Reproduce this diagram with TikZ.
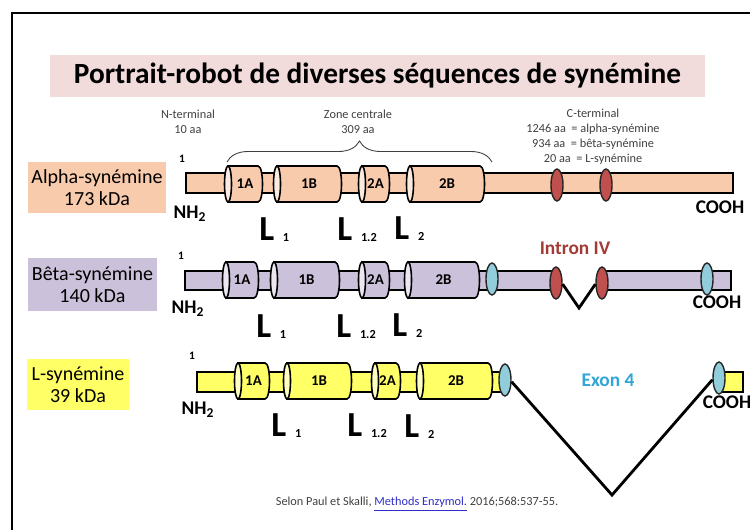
\documentclass[tikz,border=0pt]{standalone}
\usepackage{fontspec}
\setmainfont{Carlito}
\usetikzlibrary{shapes.geometric,decorations.pathreplacing}

\definecolor{peach}{HTML}{F8CBAD}
\definecolor{lilac}{HTML}{CCC1DA}
\definecolor{lemon}{HTML}{FFFF66}
\definecolor{titlepink}{HTML}{F2DCDB}
\definecolor{spotred}{HTML}{C0504D}
\definecolor{spotblue}{HTML}{92CDDC}
\definecolor{intronred}{HTML}{A33A36}
\definecolor{exonblue}{HTML}{31A5D5}
\definecolor{linkblue}{HTML}{2E2EC8}
\definecolor{note}{HTML}{404040}

\tikzset{
  rowlabel/.style={fill=#1, minimum height=1.02cm, inner sep=0pt, align=center,
    font=\fontsize{11.4}{12.3}\selectfont},
  seglabel/.style={font=\fontsize{8.5}{9}\bfseries\selectfont, inner sep=0pt},
  headnote/.style={font=\fontsize{7}{8.5}\selectfont, text=note, align=center, inner sep=0pt},
  spot/.style={ellipse, draw=black!85, line width=0.8pt, fill=#1,
    minimum width=0.24cm, minimum height=0.64cm, inner sep=0pt},
  endtag/.style={font=\fontsize{11}{11}\bfseries\selectfont, inner sep=0pt},
  startnum/.style={font=\fontsize{6.5}{6.5}\bfseries\selectfont, inner sep=0pt},
  lmark/.style={font=\fontsize{20}{20}\bfseries\selectfont, inner sep=0pt, anchor=base west},
  splice/.style={line width=1.6pt, line join=miter}
}

% one rod segment: name, x from, x to, y centre, label, colour
\newcommand{\rod}[6]{%
  \filldraw[fill=#6, line width=0.9pt] (#2,#4-18) -- (#3,#4-18)
    .. controls (#3+6,#4-18) and (#3+6,#4+18) .. (#3,#4+18) -- (#2,#4+18) -- cycle;
  \filldraw[fill=#6!40!white, line width=0.9pt] (#2,#4) ellipse (3.5 and 18);
  \node[seglabel] (#1) at ({(#2+#3)/2+2},#4) {#5};
}
\newcommand{\Lsub}[1]{L\hspace{5pt}\raisebox{-1pt}{\fontsize{7}{7}\selectfont #1}}

\begin{document}
\begin{tikzpicture}[x=0.02cm,y=-0.02cm]
  \useasboundingbox (0,0) rectangle (750,530);

  % frame and title
  \draw[line width=1.7pt] (12,535) -- (12,13) -- (755,13);
  \node[fill=titlepink, minimum width=13.1cm, minimum height=0.84cm, inner sep=0pt,
    font=\fontsize{16.7}{17}\bfseries\selectfont] (title) at (377.5,76)
    {Portrait-robot de diverses séquences de synémine};

  % headers
  \node[headnote] (nterm) at (188,122) {N-terminal\\10 aa};
  \node[headnote] (zone) at (358,122) {Zone centrale\\309 aa};
  \node[headnote] (cterm) at (593,137)
    {C-terminal\\1246 aa~ = alpha-synémine\\934 aa~ = bêta-synémine\\20 aa~ = L-synémine};
  \coordinate (zl) at (227,162);
  \coordinate (zr) at (492,162);
  \draw[note, line width=0.5pt, decorate, decoration={brace, amplitude=0.42cm}] (zl) -- (zr);

  % alpha-synemine
  \node[rowlabel=peach, minimum width=2.76cm] (alpha) at (97,187.5) {Alpha-synémine\\173 kDa};
  \node[startnum] (a0) at (182,159) {1};
  \filldraw[fill=peach, line width=0.9pt] (186,173) rectangle (733,193);
  \rod{a1A}{228}{258}{184}{1A}{peach}
  \rod{a1B}{277}{337}{184}{1B}{peach}
  \rod{a2A}{362}{385}{184}{2A}{peach}
  \rod{a2B}{410}{480}{184}{2B}{peach}
  \node[spot=spotred] (a1) at (557,185) {};
  \node[spot=spotred] (a2) at (606,185) {};
  \node[endtag] (aN) at (190,214) {NH\textsubscript{2}};
  \node[endtag] (aC) at (720,207) {COOH};
  \node[lmark] (aL1) at (259,240) {\Lsub{1}};
  \node[lmark] (aL12) at (337,240) {\Lsub{1.2}};
  \node[lmark] (aL2) at (394,239) {\Lsub{2}};

  % beta-synemine
  \node[rowlabel=lilac, minimum width=2.58cm, minimum height=1.06cm] (beta) at (92.5,284.5)
    {Bêta-synémine\\140 kDa};
  \node[startnum] (b0) at (181,256) {1};
  \filldraw[fill=lilac, line width=0.9pt] (185,271) rectangle (556,290);
  \filldraw[fill=lilac, line width=0.9pt] (602,271) rectangle (731,290);
  \rod{b1A}{226}{254}{280}{1A}{lilac}
  \rod{b1B}{274}{335}{280}{1B}{lilac}
  \rod{b2A}{362}{385}{280}{2A}{lilac}
  \rod{b2B}{408}{475}{280}{2B}{lilac}
  \node[spot=spotblue] (b1) at (492,279) {};
  \node[spot=spotred] (b2) at (556,283) {};
  \node[spot=spotred] (b3) at (602,283) {};
  \node[spot=spotblue] (b4) at (707,279) {};
  \coordinate (bdip) at (579,308);
  \draw[splice] (b2.-10) -- (bdip) -- (b3.190);
  \node[font=\fontsize{11}{11}\bfseries\selectfont, text=intronred] (intron) at (575,248) {Intron IV};
  \node[endtag] (bN) at (188,309) {NH\textsubscript{2}};
  \node[endtag] (bC) at (717,302) {COOH};
  \node[lmark] (bL1) at (256,337) {\Lsub{1}};
  \node[lmark] (bL12) at (336,337) {\Lsub{1.2}};
  \node[lmark] (bL2) at (392,336) {\Lsub{2}};

  % L-synemine
  \node[rowlabel=lemon, minimum width=2.04cm] (lsyn) at (78,384.5) {L-synémine\\39 kDa};
  \node[startnum] (l0) at (192,356) {1};
  \filldraw[fill=lemon, line width=0.9pt] (197,372) rectangle (505,392);
  \filldraw[fill=lemon, line width=0.9pt] (719,372) rectangle (743,392);
  \rod{l1A}{238}{265}{381}{1A}{lemon}
  \rod{l1B}{287}{347}{381}{1B}{lemon}
  \rod{l2A}{375}{396}{381}{2A}{lemon}
  \rod{l2B}{420}{488}{381}{2B}{lemon}
  \node[spot=spotblue] (l1) at (505,380) {};
  \node[spot=spotblue] (l2) at (719,378) {};
  \coordinate (ldip) at (612,495);
  \draw[splice] (l1.-15) -- (ldip) -- (l2.195);
  \node[font=\fontsize{11}{11}\bfseries\selectfont, text=exonblue] (exon) at (608,380) {Exon 4};
  \node[endtag] (lN) at (198,410) {NH\textsubscript{2}};
  \node[endtag] (lC) at (727,402) {COOH};
  \node[lmark] (lL1) at (271,436) {\Lsub{1}};
  \node[lmark] (lL12) at (347,436) {\Lsub{1.2}};
  \node[lmark] (lL2) at (404,437) {\Lsub{2}};

  % source
  \node[headnote] (source) at (417,504)
    {Selon Paul et Skalli, \textcolor{linkblue}{\underline{Methods Enzymol.}} 2016;568:537-55.};
\end{tikzpicture}
\end{document}
